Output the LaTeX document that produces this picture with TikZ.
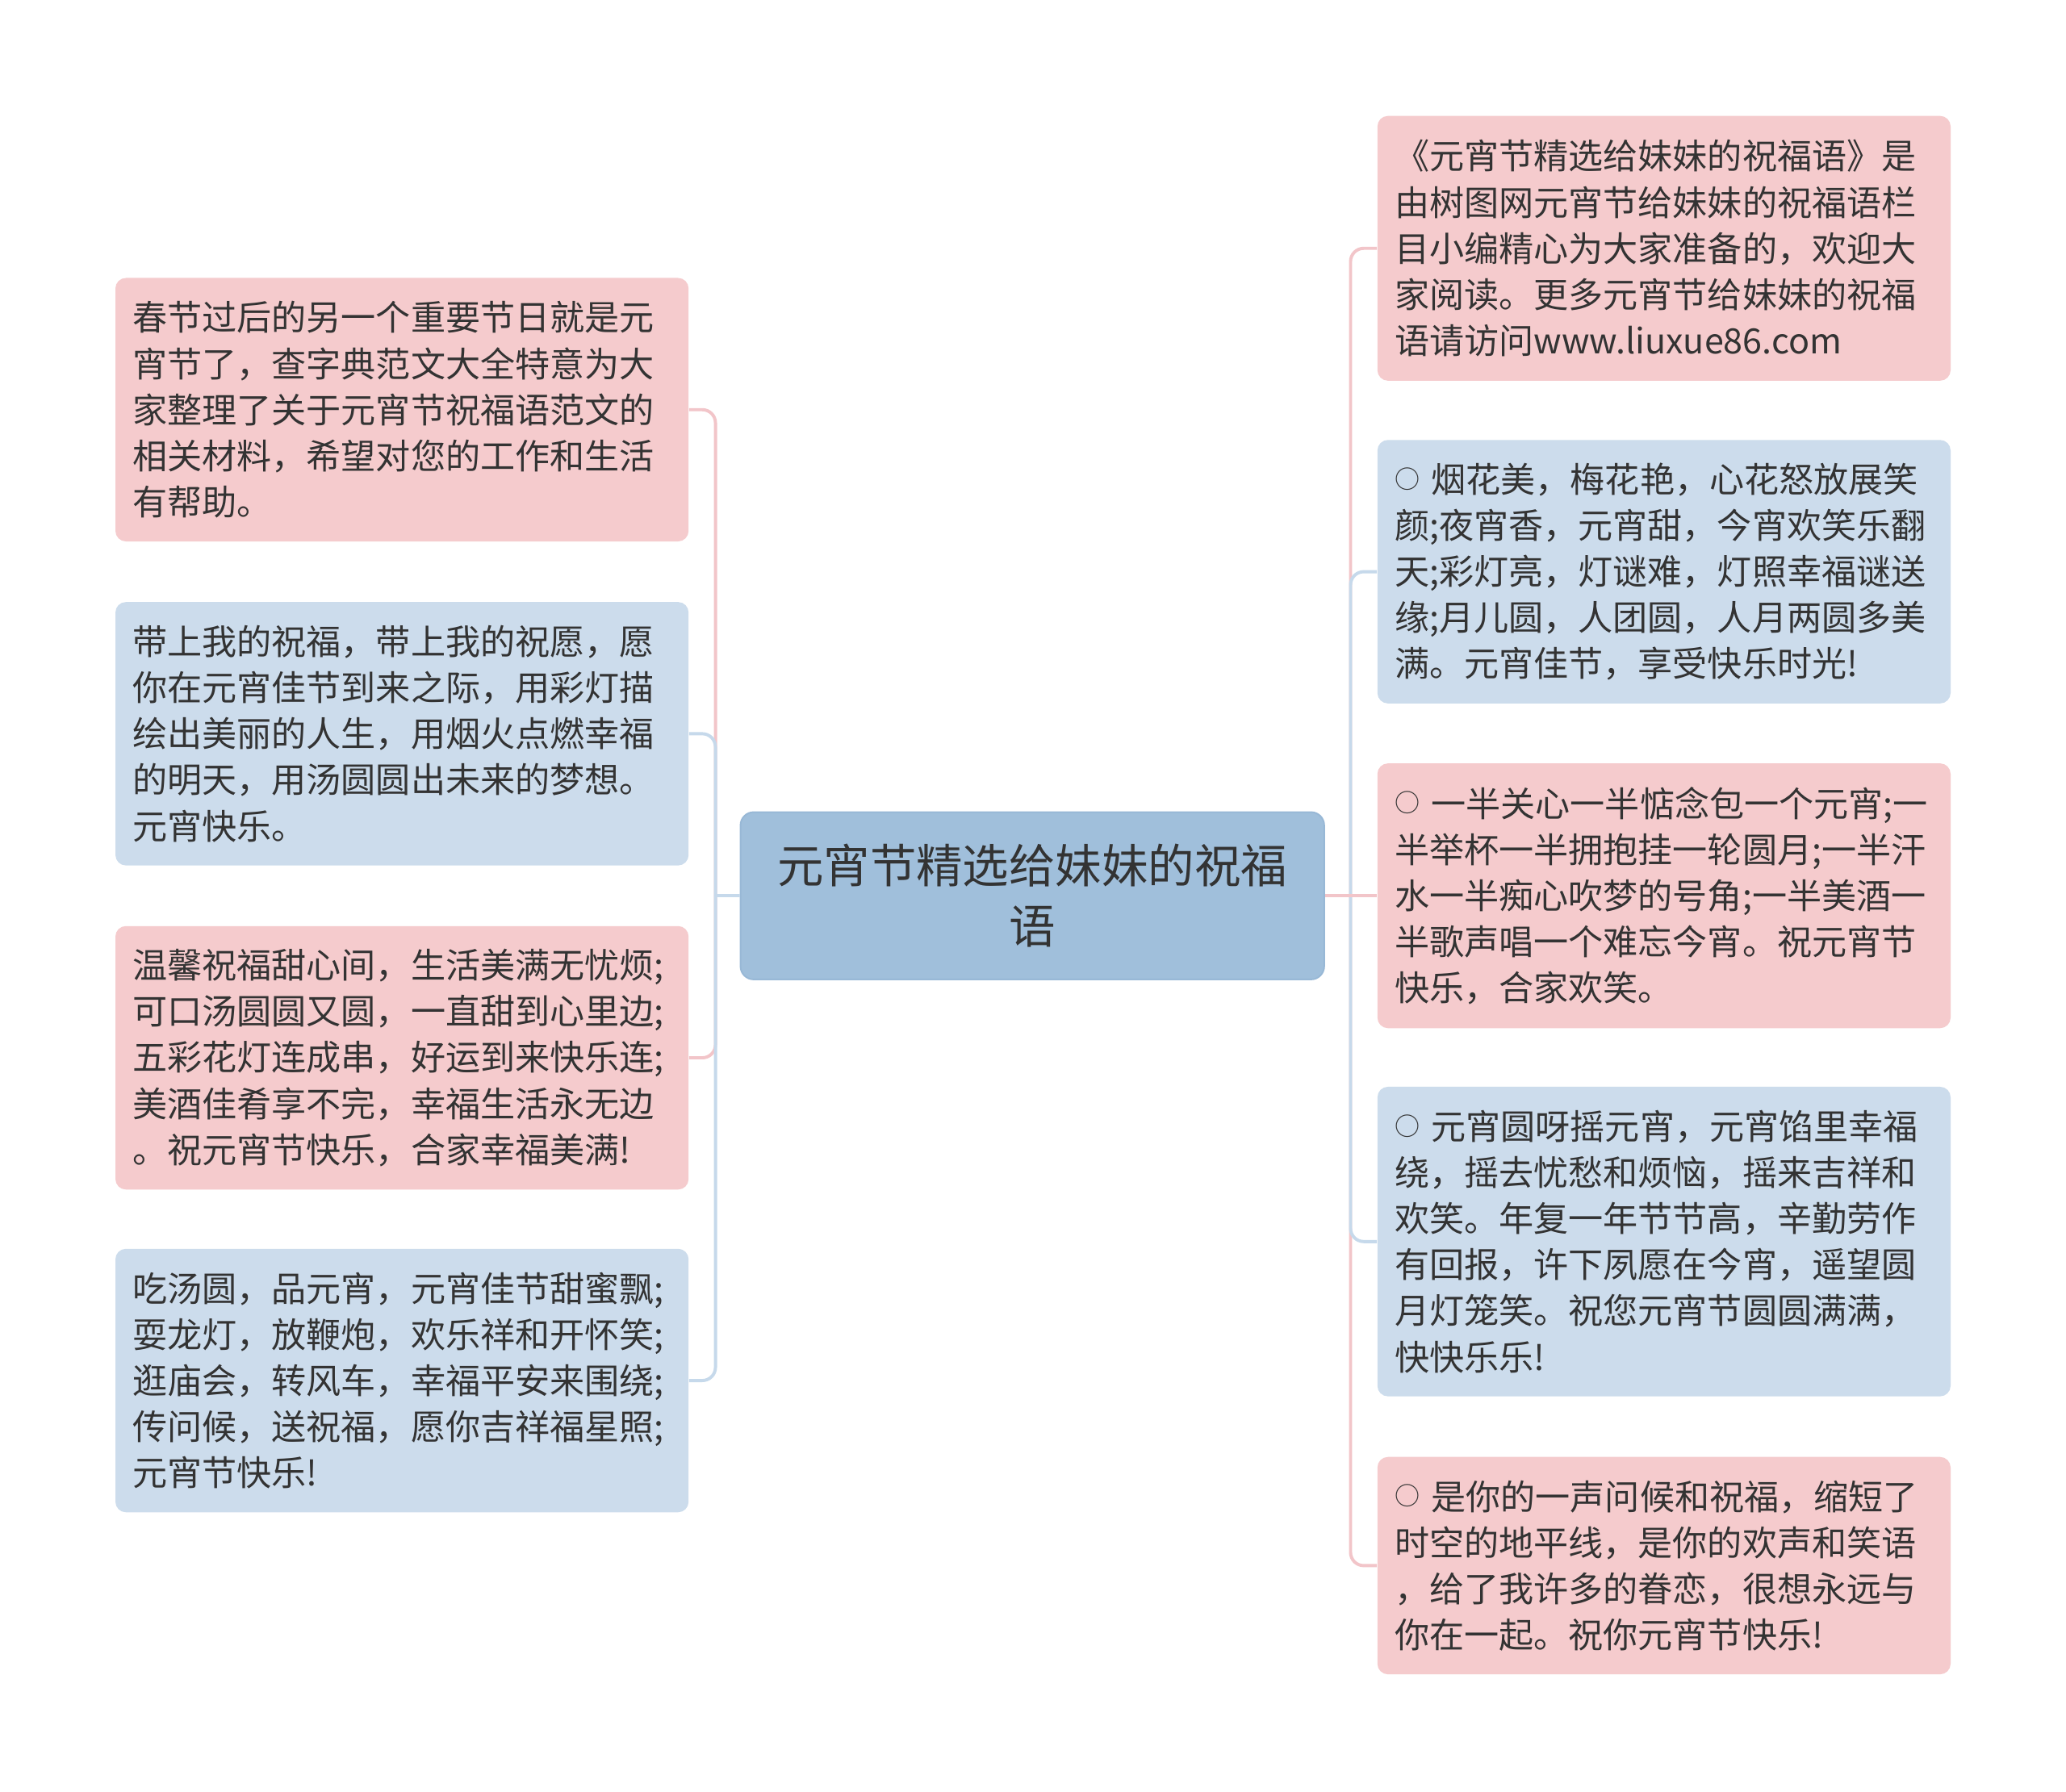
\documentclass[tikz,border=0pt]{standalone}
\usepackage{fontspec}
\setmainfont{Noto Sans CJK SC}
\usetikzlibrary{positioning}
\definecolor{pinkfill}{HTML}{F5CBCD}
\definecolor{bluefill}{HTML}{CCDCEC}
\definecolor{topicfill}{HTML}{A0BFDB}
\definecolor{topicedge}{HTML}{98B8D6}
\definecolor{pinkline}{HTML}{F2C5C9}
\definecolor{blueline}{HTML}{C6D9EB}
\definecolor{inktext}{HTML}{333333}
\newcommand{\ring}{\raisebox{1.6pt}{\fontsize{9.5}{9.5}\selectfont ○}}
\tikzset{
  leaf/.style={rounded corners=4pt,text=inktext,align=left,text width=204.5pt,
    inner xsep=6.5pt,inner ysep=2pt,font=\fontsize{13.2}{17.5}\selectfont},
  pinkleaf/.style={leaf,fill=pinkfill},
  blueleaf/.style={leaf,fill=bluefill},
  topic/.style={rounded corners=5pt,fill=topicfill,draw=topicedge,line width=0.6pt,
    text=inktext,align=center,minimum width=221.5pt,minimum height=63.5pt,
    font=\fontsize{17.6}{23}\selectfont},
  pinkwire/.style={draw=pinkline,line width=1.2pt},
  bluewire/.style={draw=blueline,line width=1.2pt},
}
\begin{document}
\begin{tikzpicture}[x=0.5pt,y=-0.5pt]
\useasboundingbox[fill=white] (0,0) rectangle (1568,1360);
% central topic
\node[topic] (topic) at (783.5,680) {元宵节精选给妹妹的祝福\\语};
\coordinate (ltrunk) at (543,680);
\coordinate (rtrunk) at (1025,680);
% left branches
\node[pinkleaf,anchor=east,minimum height=100pt] (l1) at (523,311) {春节过后的另一个重要节日就是元\\宵节了，查字典范文大全特意为大\\家整理了关于元宵节祝福语范文的\\相关材料，希望对您的工作和生活\\有帮助。};
\node[blueleaf,anchor=east,minimum height=100pt] (l2) at (523,557) {带上我的祝福，带上我的祝愿，愿\\你在元宵佳节到来之际，用彩灯描\\绘出美丽的人生，用烟火点燃幸福\\的明天，用汤圆圆出未来的梦想。\\元宵快乐。};
\node[pinkleaf,anchor=east,minimum height=100pt] (l3) at (523,803) {温馨祝福甜心间，生活美满无忧烦;\\可口汤圆圆又圆，一直甜到心里边;\\五彩花灯连成串，好运到来快乐连;\\美酒佳肴享不完，幸福生活永无边\\。祝元宵节快乐，合家幸福美满!};
\node[blueleaf,anchor=east,minimum height=100pt] (l4) at (523,1048) {吃汤圆，品元宵，元宵佳节甜蜜飘;\\耍龙灯，放鞭炮，欢乐祥和开怀笑;\\逛庙会，转风车，幸福平安来围绕;\\传问候，送祝福，愿你吉祥福星照;\\元宵节快乐!};
% right branches
\node[pinkleaf,anchor=west,minimum height=100.5pt] (r1) at (1045,188.5) {《元宵节精选给妹妹的祝福语》是\\由树图网元宵节给妹妹的祝福语栏\\目小编精心为大家准备的，欢迎大\\家阅读。更多元宵节给妹妹的祝福\\语请访问www.liuxue86.com};
\node[blueleaf,anchor=west,minimum height=100pt] (r2) at (1045,434) {\ring{} 烟花美，梅花艳，心花怒放展笑\\颜;夜宵香，元宵甜，今宵欢笑乐翻\\天;彩灯亮，灯谜难，灯照幸福谜送\\缘;月儿圆，人团圆，人月两圆多美\\满。元宵佳节，享受快乐时光!};
\node[pinkleaf,anchor=west,minimum height=100.5pt] (r3) at (1045,680) {\ring{} 一半关心一半惦念包一个元宵;一\\半举杯一半拥抱挂一轮圆月;一半汗\\水一半痴心吹梦的号角;一半美酒一\\半歌声唱一个难忘今宵。祝元宵节\\快乐，合家欢笑。};
\node[blueleaf,anchor=west,minimum height=117.5pt] (r4) at (1045,942.5) {\ring{} 元宵圆呀摇元宵，元宵馅里幸福\\绕，摇去忧愁和烦恼，摇来吉祥和\\欢笑。年复一年节节高，辛勤劳作\\有回报，许下夙愿在今宵，遥望圆\\月灯笼笑。祝您元宵节圆圆满满，\\快快乐乐!};
\node[pinkleaf,anchor=west,minimum height=82.5pt] (r5) at (1045,1188.5) {\ring{} 是你的一声问候和祝福，缩短了\\时空的地平线，是你的欢声和笑语\\，给了我许多的眷恋，很想永远与\\你在一起。祝你元宵节快乐!};
% connectors
\draw[pinkwire,rounded corners=5pt] (ltrunk) |- (l1.east);
\draw[pinkwire,rounded corners=5pt] (ltrunk) |- (l3.east);
\draw[bluewire,rounded corners=5pt] (ltrunk) |- (l2.east);
\draw[bluewire,rounded corners=5pt] (ltrunk) |- (l4.east);
\draw[bluewire] (topic.west) -- (ltrunk);
\draw[pinkwire,rounded corners=5pt] (rtrunk) |- (r1.west);
\draw[pinkwire,rounded corners=5pt] (rtrunk) |- (r5.west);
\draw[bluewire,rounded corners=5pt] (rtrunk) |- (r2.west);
\draw[bluewire,rounded corners=5pt] (rtrunk) |- (r4.west);
\draw[pinkwire] (topic.east) -- (r3.west);
\end{tikzpicture}
\end{document}
